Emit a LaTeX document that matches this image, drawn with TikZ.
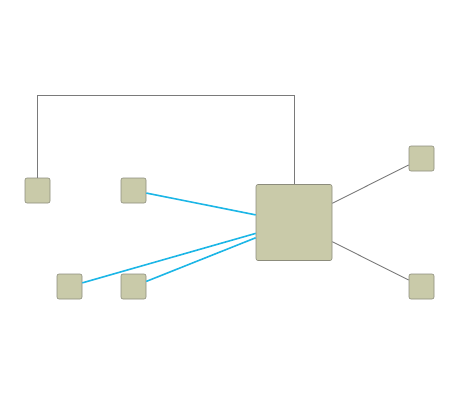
\documentclass[tikz,border=0pt]{standalone}
\usepackage{tikz}
\definecolor{boxfill}{HTML}{C9CAA9}
\definecolor{boxline}{HTML}{8C8C7C}
\definecolor{wireblue}{HTML}{1CB6E6}
\definecolor{wiregray}{HTML}{7A7A7A}
\begin{document}
\begin{tikzpicture}[x=1pt, y=-1pt]
            \tikzstyle{box} = [draw = boxline, fill = boxfill, rounded corners = 2pt, minimum size = 25pt, inner sep = 0pt, line width = .6pt];
            \tikzstyle{link} = [draw = wiregray, line width = .9pt];
            \tikzstyle{wire} = [draw = wireblue, line width = 1.6pt];
            \useasboundingbox (0,0) rectangle (460,400);
            \node[box, minimum size = 76pt] (hub) at (294,222.5) {};
            \foreach \n/\x/\y in {a/37.5/190.5, b/133.5/190.5, d/69.5/286.5,
                e/133.5/286.5, f/421.5/158.5, g/421.5/286.5}
            {\node[box] (\n) at (\x,\y) {};}
            \coordinate (top) at (0,95);
            \draw[link] (a.north) |- (top -| hub.north) -- (hub.north);
            \foreach \n in {f, g}
            {\draw[link] (hub) -- (\n);}
            \foreach \n in {b, d, e}
            {\draw[wire] (\n) -- (hub);}
        \end{tikzpicture}
\end{document}
